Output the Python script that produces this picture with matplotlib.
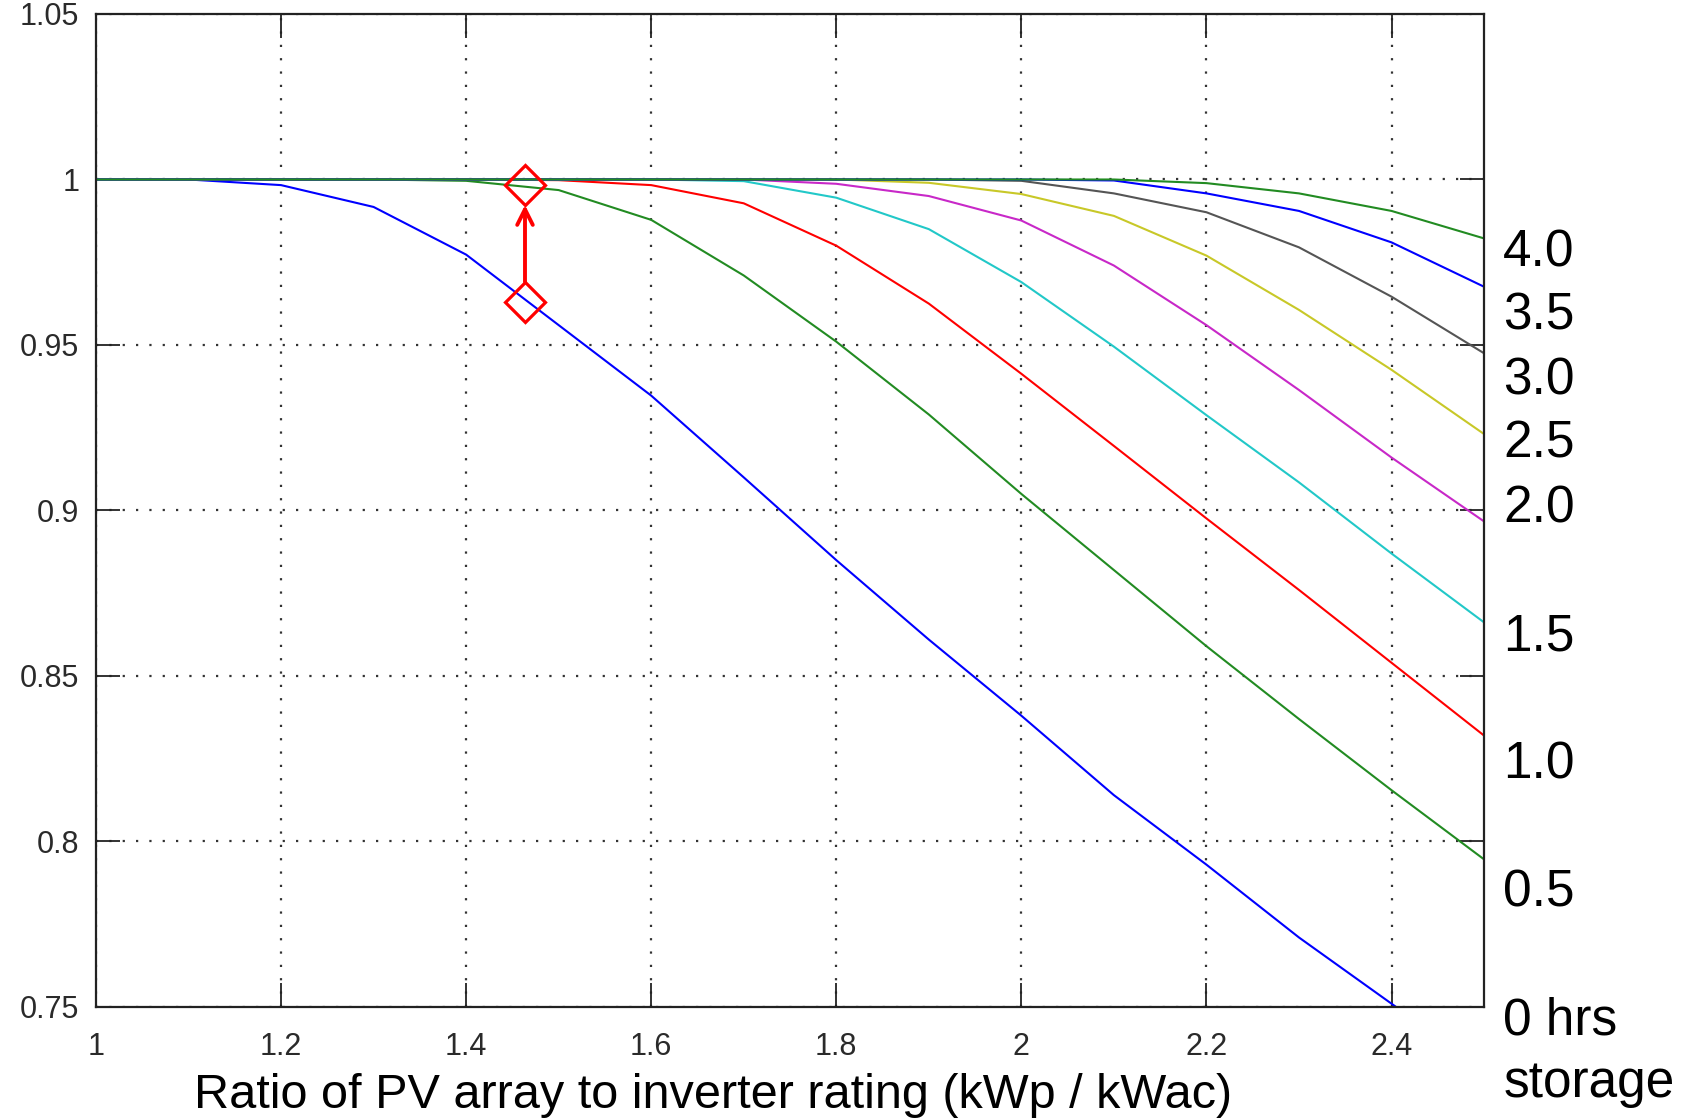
import matplotlib
matplotlib.use("Agg")
import matplotlib.pyplot as plt

plt.rcParams['font.family'] = ['Liberation Sans', 'DejaVu Sans']

# ---------------- data ----------------
ratio = [1.0, 1.1, 1.2, 1.3, 1.4, 1.5, 1.6, 1.7, 1.8, 1.9, 2.0, 2.1, 2.2, 2.3, 2.4, 2.5]

storage_0h = [1.0, 1.0, 0.9983, 0.9917, 0.9773, 0.956, 0.9347, 0.910, 0.885, 0.861,
              0.838, 0.814, 0.793, 0.771, 0.751, 0.731]
storage_05h = [1.0, 1.0, 1.0, 1.0, 0.9996, 0.9968, 0.9878, 0.971, 0.951, 0.929,
               0.905, 0.882, 0.859, 0.837, 0.8155, 0.7946]
storage_1h = [1.0, 1.0, 1.0, 1.0, 1.0, 0.9998, 0.9983, 0.9928, 0.980, 0.9625,
              0.9413, 0.9195, 0.8976, 0.876, 0.854, 0.832]
storage_15h = [1.0, 1.0, 1.0, 1.0, 1.0, 1.0, 1.0, 0.9995, 0.9945, 0.985,
               0.969, 0.9495, 0.9288, 0.9085, 0.887, 0.8662]
storage_2h = [1.0, 1.0, 1.0, 1.0, 1.0, 1.0, 1.0, 1.0, 0.9987, 0.995,
              0.9876, 0.974, 0.956, 0.9364, 0.916, 0.8967]
storage_25h = [1.0, 1.0, 1.0, 1.0, 1.0, 1.0, 1.0, 1.0, 1.0, 0.999,
               0.9956, 0.989, 0.977, 0.9606, 0.9425, 0.9231]
storage_3h = [1.0, 1.0, 1.0, 1.0, 1.0, 1.0, 1.0, 1.0, 1.0, 1.0,
              0.9996, 0.9958, 0.9901, 0.9795, 0.9646, 0.9475]
storage_35h = [1.0, 1.0, 1.0, 1.0, 1.0, 1.0, 1.0, 1.0, 1.0, 1.0,
               1.0, 0.9997, 0.9958, 0.9905, 0.981, 0.9676]
storage_4h = [1.0, 1.0, 1.0, 1.0, 1.0, 1.0, 1.0, 1.0, 1.0, 1.0,
              1.0, 1.0, 0.9989, 0.9958, 0.9905, 0.9822]

series = [storage_0h, storage_05h, storage_1h, storage_15h, storage_2h,
          storage_25h, storage_3h, storage_35h, storage_4h]
colors = ['#0000ff', '#228b22', '#ff0000', '#22c8c8', '#c828c8',
          '#c8c828', '#555555', '#0000ff', '#228b22']

storage_labels = ['4.0', '3.5', '3.0', '2.5', '2.0', '1.5', '1.0', '0.5', '0 hrs\nstorage']

xticks = [1.0, 1.2, 1.4, 1.6, 1.8, 2.0, 2.2, 2.4]
xtick_labels = ['1', '1.2', '1.4', '1.6', '1.8', '2', '2.2', '2.4']
yticks = [0.75, 0.8, 0.85, 0.9, 0.95, 1.0, 1.05]
ytick_labels = ['0.75', '0.8', '0.85', '0.9', '0.95', '1', '1.05']

# annotation (arrow between diamonds)
annot_x = 1.4636
annot_low = 0.9631
annot_high = 0.9983
arrow_start = 0.9691
arrow_end = 0.9923

xlabel = 'Ratio of PV array to inverter rating (kWp / kWac)'

# ---------------- figure ----------------
fig = plt.figure(figsize=(16.87, 11.19), dpi=100)
ax = fig.add_axes([0.0569, 0.1001, 0.8228, 0.8874])

for vals, c in zip(series, colors):
    ax.plot(ratio, vals, color=c, lw=1.5, solid_joinstyle='round')

ax.set_xlim(1.0, 2.5)
ax.set_ylim(0.75, 1.05)
ax.set_xticks(xticks)
ax.set_xticklabels(xtick_labels)
ax.set_yticks(yticks)
ax.set_yticklabels(ytick_labels)

ax.grid(True, color='#333333', linestyle=(0, (1, 5)), linewidth=1.6)
ax.tick_params(which='both', direction='in', top=True, right=True,
               length=17, width=1.3, color='#222222',
               labelsize=22, labelcolor='#2a2a2a')
ax.tick_params(axis='x', pad=18)
ax.tick_params(axis='y', pad=12)
for sp in ax.spines.values():
    sp.set_linewidth(1.6)
    sp.set_color('#222222')

# annotation
ax.plot([annot_x, annot_x], [annot_low, annot_high], linestyle='none',
        marker='D', markersize=20, markerfacecolor='none',
        markeredgecolor='red', markeredgewidth=2.3, zorder=5)
ax.annotate('', xy=(annot_x, arrow_end), xytext=(annot_x, arrow_start),
            arrowprops=dict(arrowstyle='->', color='red', lw=2.8,
                            mutation_scale=28, shrinkA=0, shrinkB=0),
            zorder=5)

# right-side storage labels
label_y = [0.7742, 0.7172, 0.6596, 0.603, 0.5452, 0.4309, 0.3168, 0.202, 0.0598]
for lab, yy in zip(storage_labels, label_y):
    fig.text(0.891, yy, lab, fontsize=37, color='black', ha='left', va='center',
             linespacing=1.35)

fig.text(0.4227, 0.021, xlabel, fontsize=35, color='black', ha='center', va='center')

fig.savefig('out.png', dpi=100)
